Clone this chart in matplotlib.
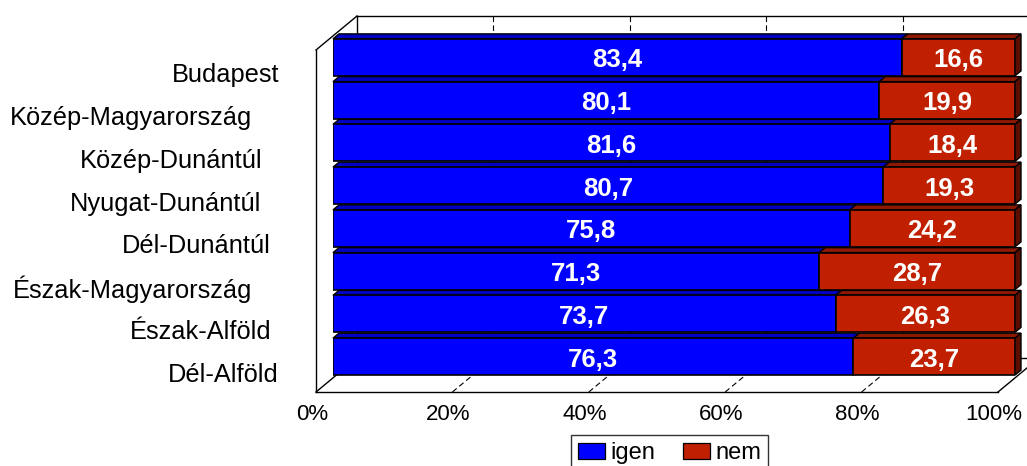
import matplotlib.pyplot as plt
from matplotlib.patches import Polygon

plt.rcParams['font.family'] = ['Liberation Sans', 'DejaVu Sans']

categories = ['Budapest', 'Közép-Magyarország', 'Közép-Dunántúl', 'Nyugat-Dunántúl',
              'Dél-Dunántúl', 'Észak-Magyarország', 'Észak-Alföld', 'Dél-Alföld']
igen = [83.4, 80.1, 81.6, 80.7, 75.8, 71.3, 73.7, 76.3]
nem = [16.6, 19.9, 18.4, 19.3, 24.2, 28.7, 26.3, 23.7]
ticks = [0, 20, 40, 60, 80, 100]
series_names = ['igen', 'nem']

# layout (pixels in the 1027x466 image)
W, H = 1027, 466
AX_L, AX_R, AX_T, AX_B = 333, 1015, 36, 378
label_right = [279, 252, 263, 261, 271, 252, 271, 279]

blue = '#0000FF'
red = '#C02000'
red_side = '#5A0E00'
blue_top = '#0000C4'
red_top = '#8E1800'

fig = plt.figure(figsize=(W / 100, H / 100), dpi=100)
ax = fig.add_axes([AX_L / W, 1 - AX_B / H, (AX_R - AX_L) / W, (AX_B - AX_T) / H])
n = len(categories)
ax.set_xlim(0, 100)
ax.set_ylim(n - 0.5, -0.5)
ax.axis('off')

UX = 100 / (AX_R - AX_L)
UY = n / (AX_B - AX_T)


def off(x, y, dx, dy):
    return (x + dx * UX, y + dy * UY)


F = (-17, 14)   # front plane
B = (24, -20)   # back plane
top, bot = -0.5, n - 0.5
lk = dict(color='black', lw=1.0, clip_on=False, zorder=1)


def seg(p, q, **kw):
    kk = dict(lk)
    kk.update(kw)
    ax.plot([p[0], q[0]], [p[1], q[1]], **kk)


# walls and floor
seg(off(0, top, *F), off(0, bot, *F))
seg(off(0, top, *F), off(0, top, *B))
seg(off(0, bot, *F), off(0, bot, *B))
seg(off(0, top, *B), off(0, bot, *B))
seg(off(0, top, *B), off(100, top, *B))
seg(off(100, top, *B), off(100, bot, *B))
seg(off(0, bot, *F), off(100, bot, *F))
seg(off(0, bot, *B), off(100, bot, *B))
seg(off(100, bot, *F), off(100, bot, *B))
for k in ticks[1:-1]:
    seg(off(k, top, *B), off(k, bot, *B), ls=(0, (5, 3)), lw=0.8)
    seg(off(k, bot, *F), off(k, bot, *B), ls=(0, (5, 3)), lw=0.8)

# bars
h = 0.865
dd = (6, -5)
ypos = list(range(n))
ax.barh(ypos, igen, height=h, color=blue, edgecolor='black', lw=1.2, zorder=4)
ax.barh(ypos, nem, left=igen, height=h, color=red, edgecolor='black', lw=1.2, zorder=4)
fmt = lambda v: f'{v:.1f}'.replace('.', ',')
for i in ypos:
    yt = i - h / 2
    yb = i + h / 2
    segs = [(0, igen[i], blue_top), (igen[i], igen[i] + nem[i], red_top)]
    for x0, x1, c in segs:
        pts = [(x0, yt), (x1, yt), off(x1, yt, *dd), off(x0, yt, *dd)]
        ax.add_patch(Polygon(pts, closed=True, fc=c, ec='black', lw=1.0, zorder=3, clip_on=False))
    x1 = igen[i] + nem[i]
    pts = [(x1, yt), (x1, yb), off(x1, yb, *dd), off(x1, yt, *dd)]
    ax.add_patch(Polygon(pts, closed=True, fc=red_side, ec='black', lw=1.0, zorder=3, clip_on=False))
    ax.text(igen[i] / 2, i + 3 * UY, fmt(igen[i]), ha='center', va='center',
            color='white', fontsize=18.5, fontweight='bold', zorder=6)
    ax.text(igen[i] + nem[i] / 2, i + 3 * UY, fmt(nem[i]), ha='center', va='center',
            color='white', fontsize=18.5, fontweight='bold', zorder=6)

# category labels
for i, name in enumerate(categories):
    ax.text((label_right[i] - AX_L) * UX, i + 18 * UY, name, ha='right', va='center',
            fontsize=18.3, clip_on=False)

# x tick labels
for k in ticks:
    x, y = off(k, bot, F[0] - 4, F[1] + 23)
    ax.text(x, y, f'{k}%', ha='center', va='center', fontsize=16, clip_on=False)

# legend
handles = [plt.Rectangle((0, 0), 1, 1, fc=blue, ec='black', lw=0.9),
           plt.Rectangle((0, 0), 1, 1, fc=red, ec='black', lw=0.9)]
leg = fig.legend(handles, series_names, loc='upper left', ncol=2,
                 bbox_to_anchor=(571 / W, 1 - 435 / H), bbox_transform=fig.transFigure,
                 fontsize=17, frameon=True, fancybox=False, borderpad=0.3,
                 handlelength=1.15, handleheight=0.7, handletextpad=0.2,
                 columnspacing=1.2, borderaxespad=0)
leg.get_frame().set_edgecolor('black')
leg.get_frame().set_linewidth(1.0)

fig.savefig('out.png', dpi=100)
